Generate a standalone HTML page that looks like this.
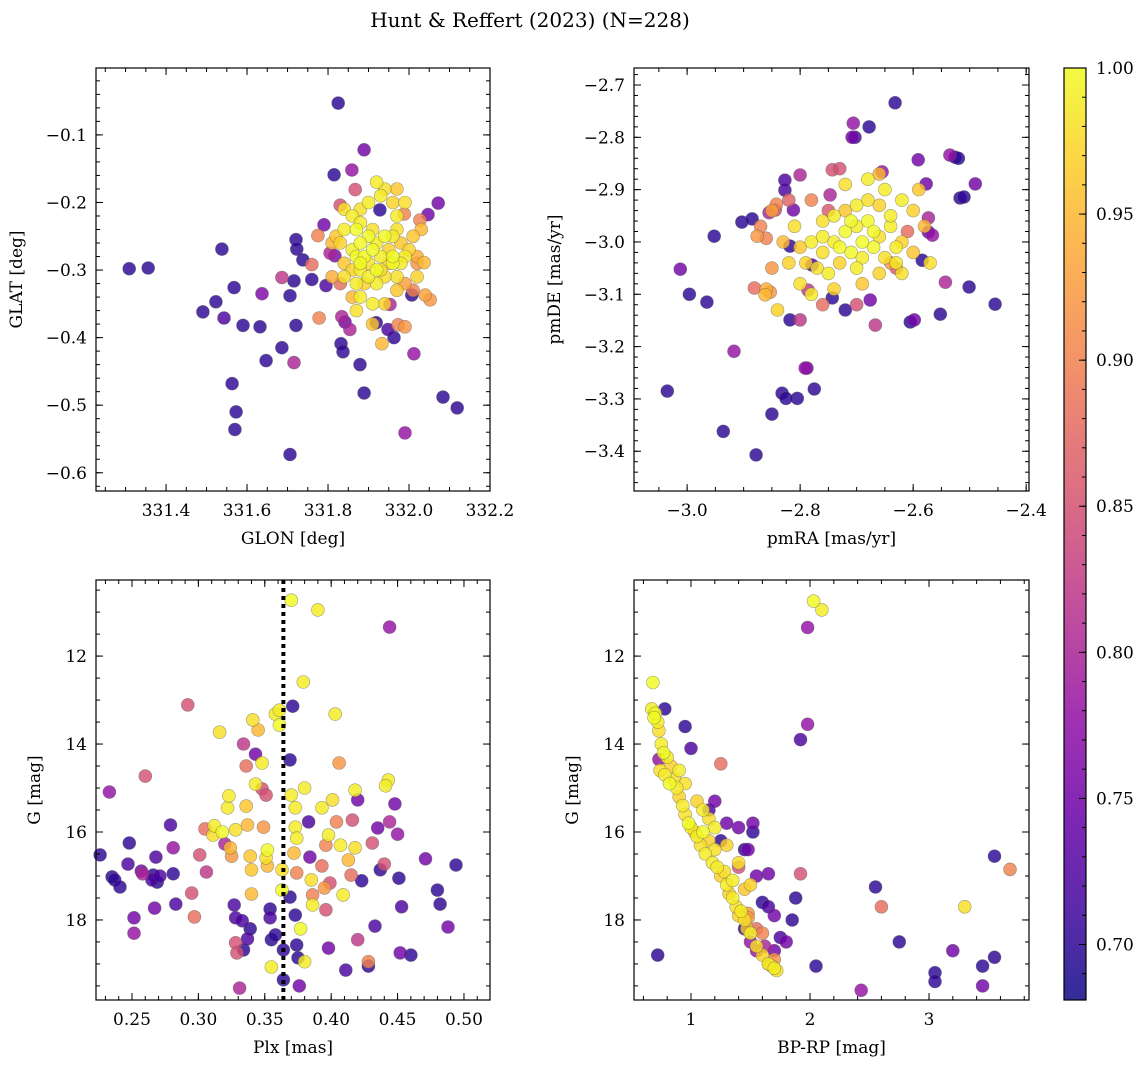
<!DOCTYPE html>
<html><head><meta charset="utf-8"><style>
body{margin:0;background:#fff;}
svg text{font-family:"DejaVu Serif","Liberation Serif",serif;fill:#000;}
</style></head><body>
<svg id="fig" width="1148" height="1068" viewBox="0 0 1148 1068" xmlns="http://www.w3.org/2000/svg">
<text x="530" y="27" font-size="20" text-anchor="middle">Hunt &amp; Reffert (2023) (N=228)</text>
</svg>
<script>
// ---- Panel 1: GLON vs GLAT ----
const p1x=[331.309,331.356,331.491,331.523,331.538,331.543,331.568,331.590,331.563,331.573,331.570,331.637,331.632,331.647,331.686,331.686,331.706,331.716,331.721,331.723,331.721,331.716,331.706,331.738,331.760,331.760,331.778,331.775,331.790,331.795,331.805,331.815,331.825,331.817,331.830,331.834,331.832,331.837,331.842,331.854,331.859,331.867,331.889,331.879,331.889,331.919,331.928,331.933,331.948,331.953,331.963,331.973,331.990,331.990,331.988,332.012,332.007,332.027,332.037,332.047,332.052,332.072,332.084,332.119,332.040,
331.84,331.86,331.87,331.88,331.90,331.91,331.92,331.94,331.95,331.96,331.97,331.98,331.99,332.00,331.86,331.87,331.88,331.89,331.90,331.92,331.93,331.95,331.96,331.97,331.84,331.83,331.84,331.87,331.89,331.92,331.94,331.97,331.88,331.86,331.91,331.93,331.94,331.92,331.90,331.88,331.96,331.97,331.88,331.91,331.88,331.90,331.93,331.96,331.98,331.86,331.84,331.82,331.81,331.99,332.01,332.02,332.03,332.02,332.01,331.81,331.83,331.87,331.94,331.91,331.97,331.99,332.02];
const p1y=[-0.298,-0.297,-0.362,-0.347,-0.269,-0.371,-0.326,-0.382,-0.468,-0.510,-0.536,-0.335,-0.384,-0.434,-0.415,-0.311,-0.338,-0.316,-0.255,-0.269,-0.382,-0.437,-0.573,-0.285,-0.292,-0.314,-0.371,-0.249,-0.233,-0.323,-0.275,-0.159,-0.053,-0.279,-0.204,-0.369,-0.409,-0.421,-0.377,-0.388,-0.152,-0.181,-0.122,-0.440,-0.482,-0.378,-0.211,-0.409,-0.388,-0.351,-0.400,-0.381,-0.384,-0.541,-0.217,-0.424,-0.337,-0.226,-0.289,-0.218,-0.344,-0.201,-0.488,-0.504,-0.337,
-0.21,-0.22,-0.24,-0.23,-0.25,-0.24,-0.26,-0.25,-0.27,-0.25,-0.24,-0.26,-0.28,-0.27,-0.27,-0.28,-0.30,-0.28,-0.29,-0.30,-0.28,-0.29,-0.29,-0.31,-0.29,-0.26,-0.31,-0.32,-0.32,-0.32,-0.31,-0.33,-0.34,-0.34,-0.35,-0.19,-0.18,-0.17,-0.20,-0.21,-0.20,-0.22,-0.29,-0.27,-0.26,-0.31,-0.30,-0.28,-0.29,-0.30,-0.24,-0.25,-0.26,-0.32,-0.25,-0.29,-0.24,-0.28,-0.33,-0.31,-0.32,-0.36,-0.35,-0.38,-0.18,-0.20,-0.31];
const p1c=[.70,.70,.70,.70,.70,.72,.70,.70,.70,.70,.70,.76,.70,.70,.70,.82,.70,.70,.70,.70,.70,.80,.70,.70,.88,.70,.90,.90,.75,.72,.80,.70,.70,.76,.85,.80,.70,.70,.75,.80,.78,.85,.75,.70,.70,.70,.70,.95,.72,.80,.70,.90,.92,.78,.90,.78,.70,.90,.95,.75,.92,.75,.70,.70,.93,
.98,.99,1,.99,1,.98,.99,1,.97,.99,.98,.96,.99,.97,.99,1,.99,1,.98,1,.99,.97,1,.98,.96,.97,.98,.99,.97,.99,.98,.96,.99,.95,.99,.99,.98,.99,.99,.98,.97,.99,1,1,1,.99,.98,1,.99,.97,.99,.96,.95,.93,.96,.92,.95,.94,.90,.94,.88,.98,.97,.96,.96,.98,.97];

// ---- Panel 2: pmRA vs pmDE ----
const p2x=[-2.632,-2.706,-2.708,-2.703,-2.678,-2.535,-2.526,-2.520,-2.490,-2.517,-2.510,-2.455,-2.501,-2.543,-2.552,-2.584,-2.598,-2.605,-2.573,-2.566,-2.573,-2.577,-2.591,-2.655,-2.667,-2.676,-2.720,-2.743,-2.779,-2.786,-2.791,-2.788,-2.775,-2.805,-2.832,-2.825,-2.850,-2.878,-2.936,-3.035,-2.996,-2.965,-3.012,-2.952,-2.903,-2.885,-2.917,-2.818,-2.800,-2.818,-2.827,-2.812,-2.827,-2.844,-2.855,-2.842,-2.860,-2.876,-2.862,-2.853,-2.881,-2.800,-2.743,-2.747,
-2.72,-2.70,-2.68,-2.66,-2.64,-2.62,-2.74,-2.76,-2.78,-2.80,-2.71,-2.69,-2.67,-2.65,-2.63,-2.73,-2.75,-2.77,-2.79,-2.70,-2.68,-2.66,-2.64,-2.72,-2.74,-2.76,-2.62,-2.60,-2.59,-2.68,-2.72,-2.65,-2.70,-2.66,-2.62,-2.81,-2.83,-2.82,-2.80,-2.78,-2.74,-2.69,-2.71,-2.67,-2.73,-2.69,-2.76,-2.63,-2.60,-2.58,-2.85,-2.87,-2.85,-2.86,-2.84,-2.76,-2.64,-2.61,-2.78,-2.73,-2.66,-2.63,-2.70,-2.75,-2.82,-2.57];
const p2y=[-2.734,-2.773,-2.800,-2.800,-2.780,-2.834,-2.838,-2.840,-2.889,-2.916,-2.914,-3.119,-3.086,-3.077,-3.138,-3.035,-3.149,-3.153,-2.981,-2.987,-2.954,-2.889,-2.843,-2.866,-3.159,-3.111,-3.130,-3.107,-3.044,-3.092,-3.241,-3.241,-3.281,-3.299,-3.289,-3.299,-3.329,-3.407,-3.362,-3.285,-3.100,-3.115,-3.052,-2.989,-2.962,-2.956,-3.209,-3.149,-3.149,-3.008,-2.901,-2.939,-2.882,-2.939,-2.944,-2.928,-2.993,-2.989,-3.101,-3.096,-3.088,-2.872,-2.862,-2.910,
-2.98,-2.97,-2.96,-2.99,-2.97,-3.00,-3.00,-3.02,-3.00,-3.01,-3.02,-3.03,-3.01,-3.03,-3.04,-3.04,-3.06,-3.05,-3.04,-2.93,-2.92,-2.93,-2.95,-2.94,-2.95,-2.96,-2.92,-2.94,-2.90,-2.88,-2.89,-2.90,-3.05,-3.06,-3.06,-2.97,-3.00,-3.04,-3.08,-3.10,-3.09,-3.08,-2.96,-2.98,-3.01,-3.00,-2.99,-3.01,-3.02,-2.97,-2.94,-2.97,-3.05,-3.09,-3.13,-3.12,-3.04,-2.98,-2.92,-2.86,-2.87,-3.05,-3.12,-2.94,-2.92,-3.04];
const p2c=[.70,.78,.75,.72,.70,.78,.70,.70,.75,.70,.70,.70,.70,.80,.70,.70,.75,.70,.75,.78,.80,.75,.75,.78,.82,.75,.70,.70,.72,.82,.78,.75,.70,.70,.70,.70,.70,.70,.70,.70,.70,.70,.75,.70,.70,.70,.78,.70,.82,.70,.72,.75,.72,.85,.80,.90,.90,.92,.95,.92,.88,.80,.85,.80,
1,.99,1,.98,.99,.97,.99,.98,.99,.96,1,.99,1,.98,.99,.97,.99,.98,.97,.99,.98,.97,.99,.96,.99,.98,.99,.97,.96,.99,.98,.99,.99,.97,.98,.98,.95,.97,.98,.99,.97,.96,1,1,1,1,.99,.99,.96,.95,.93,.90,.92,.94,.97,.88,.92,.88,.90,.85,.95,.86,.85,.86,.87,.98];

// ---- Panel 3: Plx vs G ----
const p3x=[0.226,0.233,0.235,0.237,0.241,0.247,0.248,0.2515,0.2515,0.257,0.258,0.260,0.266,0.268,0.265,0.267,0.269,0.271,0.279,0.281,0.283,0.281,0.292,0.295,0.297,0.301,0.306,0.305,0.311,0.312,0.316,0.318,0.320,0.322,0.323,0.324,0.325,0.328,0.327,0.328,0.328,0.329,0.331,0.334,0.336,0.336,0.337,0.339,0.340,0.340,0.339,0.341,0.343,0.345,0.343,0.348,0.348,0.351,0.349,0.351,0.352,0.352,0.354,0.354,0.355,0.358,0.355,0.358,0.361,0.361,0.363,0.363,0.364,0.364,0.370,0.371,0.369,0.370,0.373,0.373,0.374,0.372,0.374,0.369,0.373,0.374,0.375,0.376,0.377,0.379,0.380,0.383,0.384,0.385,0.386,0.386,0.380,0.390,0.393,0.393,0.395,0.396,0.398,0.396,0.398,0.399,0.403,0.401,0.404,0.407,0.406,0.409,0.411,0.413,0.415,0.416,0.418,0.418,0.420,0.420,0.423,0.428,0.428,0.431,0.433,0.435,0.437,0.440,0.443,0.441,0.444,0.444,0.448,0.450,0.451,0.453,0.452,0.460,0.471,0.480,0.482,0.488,0.494,0.334,0.337,0.333];
const p3y=[16.52,15.09,17.02,17.09,17.25,16.73,16.25,17.95,18.30,16.89,16.95,14.73,16.98,16.57,17.09,17.73,17.14,17.0,15.84,16.36,17.64,16.95,13.11,17.39,17.93,16.52,16.91,15.93,16.07,15.86,13.73,16.0,16.27,15.45,15.18,16.36,16.55,15.95,17.66,17.95,18.52,18.75,19.55,14.0,14.5,15.41,15.84,16.55,16.86,17.41,18.20,13.45,14.23,13.68,14.91,14.43,15.02,15.16,15.89,16.59,16.77,16.41,17.95,17.75,18.45,18.34,19.07,13.32,13.23,13.57,16.86,17.32,18.68,19.36,10.73,13.14,14.36,15.16,15.45,15.89,16.14,16.48,16.93,17.48,17.89,18.57,18.86,19.5,18.2,12.59,15.0,15.77,16.57,17.09,17.43,17.66,18.95,10.95,15.45,16.77,17.27,16.3,16.07,17.77,18.64,17.16,13.32,15.27,15.77,16.3,14.43,17.43,19.14,16.64,16.98,15.73,16.36,15.05,15.27,18.45,17.11,19.05,18.95,16.25,18.14,15.91,16.86,16.73,14.82,14.95,15.77,11.34,15.36,16.05,17.05,17.7,18.75,18.8,16.61,17.32,17.64,18.16,16.75,18.68,18.43,18.02];
const p3c=[.7,.78,.7,.7,.7,.72,.7,.75,.78,.75,.8,.85,.7,.72,.72,.75,.7,.72,.72,.78,.72,.7,.85,.85,.88,.85,.82,.88,.98,.99,.98,1,.8,.99,.99,.95,.92,.98,.72,.72,.85,.85,.8,.82,.88,.96,.95,.96,.96,.95,.7,.98,.75,.95,.99,.99,.85,.85,.92,.98,.95,1,.72,.7,.7,.7,.99,.99,.99,1,.98,1,.7,.7,1,.7,.7,.99,.99,.99,.99,.95,.9,.7,.7,.7,.7,.75,1,.99,.99,.72,.75,.98,.9,.99,.99,.99,.99,.88,.92,.9,.99,.85,.75,.85,.99,.98,.9,.99,.92,.99,.72,.95,.88,.85,.98,.99,.75,.82,.7,.7,.9,.85,.72,.75,.7,.85,.99,.99,.8,.78,.75,.78,.7,.72,.75,.7,.75,.7,.7,.75,.7,.7,.72,.72];

// ---- Panel 4: BP-RP vs G ----
const p4x=[0.68,0.67,0.70,0.72,0.69,0.73,0.75,0.77,0.74,0.80,0.83,0.78,0.82,0.86,0.88,0.90,0.93,0.95,0.98,1.0,1.03,1.05,1.08,1.1,1.12,1.15,1.18,1.2,1.22,1.25,1.28,1.3,1.32,1.35,1.38,1.4,1.42,1.45,1.47,1.5,1.55,1.6,1.65,1.68,1.7,1.72,0.9,0.95,1.05,1.1,1.15,1.2,1.3,1.4,1.35,2.03,2.1,3.3,1.5,1.45,
3.68,2.6,1.48,1.48,1.6,1.65,1.7,1.25,1.55,1.4,
1.98,1.98,1.92,1.52,1.52,1.65,1.92,1.88,1.85,1.8,1.7,1.62,1.55,1.75,2.05,2.55,2.75,3.2,3.05,3.05,3.45,3.45,3.55,3.55,2.43,0.72,0.95,0.78,1.0,1.2,1.15,1.25,1.3,1.4,1.45,1.48,1.55,1.6,1.45,1.7,1.65,1.5,0.73];
const p4y=[12.6,13.2,13.3,13.5,13.4,13.7,14.0,14.2,14.6,14.3,14.5,14.7,14.9,14.8,15.0,15.2,15.4,15.6,15.8,15.9,16.0,16.1,16.3,16.0,16.5,16.2,16.7,16.4,16.8,17.0,16.9,17.2,17.4,17.5,17.7,17.9,17.8,18.0,18.2,18.3,18.6,18.8,19.0,19.05,19.1,19.15,14.6,14.9,15.3,15.5,15.7,15.9,16.3,16.7,17.1,10.75,10.95,17.7,17.2,17.3,
16.85,17.7,17.85,17.95,18.3,19.0,18.9,14.45,18.2,16.8,
11.35,13.55,13.9,15.8,16.0,16.95,16.95,17.5,18.0,18.5,18.7,18.6,18.7,18.4,19.05,17.25,18.5,18.7,19.2,19.4,19.05,19.5,18.85,16.55,19.6,18.8,13.6,13.2,14.1,15.3,15.5,16.2,15.8,15.9,16.4,16.4,17.0,17.6,18.2,17.9,17.7,18.5,14.35];
const p4c=[1,.99,1,.99,1,.98,.99,1,.98,.99,.97,.99,1,.98,.99,.97,.99,.98,1,.99,.97,.99,.98,1,.99,.97,.99,.98,.99,.97,.98,.99,.97,.99,.98,.97,.99,.98,.96,.99,.98,.97,.99,.98,.99,.98,.99,.98,.97,.99,.98,.99,.97,.98,.99,1,.99,.98,.97,.96,
.9,.88,.92,.92,.9,.93,.92,.88,.88,.85,
.78,.78,.72,.75,.7,.75,.85,.7,.7,.75,.75,.8,.78,.72,.7,.7,.7,.75,.7,.7,.7,.75,.7,.7,.78,.7,.7,.7,.72,.75,.72,.7,.75,.75,.7,.75,.75,.7,.7,.75,.72,.78,.78];

const cbTicks=[0.70,0.75,0.80,0.85,0.90,0.95,1.00];
const CMIN=0.681, CMAX=1.0;

const NS='http://www.w3.org/2000/svg';
const svg=document.getElementById('fig');
function mk(tag,attrs,parent){const e=document.createElementNS(NS,tag);for(const k in attrs)e.setAttribute(k,attrs[k]);(parent||svg).appendChild(e);return e;}
const PL=[[13,8,135],[65,4,157],[106,0,168],[143,13,164],[177,42,144],[204,71,120],[225,100,98],[242,132,75],[252,166,54],[252,206,37],[240,249,33]];
function plasma(v){let t=(v-CMIN)/(CMAX-CMIN);t=Math.max(0,Math.min(1,t))*10;const i=Math.min(9,Math.floor(t)),f=t-i;const a=PL[i],b=PL[i+1];return `rgb(${Math.round(a[0]+(b[0]-a[0])*f)},${Math.round(a[1]+(b[1]-a[1])*f)},${Math.round(a[2]+(b[2]-a[2])*f)})`;}
function fmt(v,d){const s=Math.abs(v).toFixed(d);return (v<-1e-9?'\u2212':'')+s;}

function panel(o){
  const g=mk('g',{});
  
  
  const sx=v=>o.x0+(v-o.xmin)/(o.xmax-o.xmin)*(o.x1-o.x0);
  const sy=v=>o.y1+(v-o.ymin)/(o.ymax-o.ymin)*(o.y0-o.y1);
  const idx=o.xs.map((_,i)=>i).sort((a,b)=>o.cs[a]-o.cs[b]);
  const pts=mk('g',{},g);
  
  
  for(const i of idx){
    const c=mk('circle',{cx:sx(o.xs[i]).toFixed(1),cy:sy(o.ys[i]).toFixed(1),r:6.5,fill:plasma(o.cs[i]),'fill-opacity':0.82,stroke:'rgba(90,90,90,0.55)','stroke-width':0.6},pts);
    
    
  }
  if(o.vline!==undefined){
    const l=mk('line',{x1:sx(o.vline),x2:sx(o.vline),y1:o.y0,y2:o.y1,stroke:'#000','stroke-width':4,'stroke-dasharray':'4,4'},g);
    
    
  }
  const fr=mk('rect',{x:o.x0,y:o.y0,width:o.x1-o.x0,height:o.y1-o.y0,fill:'none',stroke:'#000','stroke-width':1.2},g);
  
  
  const tk=mk('g',{stroke:'#000','stroke-width':1},g);
  for(let k=Math.ceil(o.xmin/o.xmi-1e-6);k*o.xmi<=o.xmax+1e-9;k++){const x=sx(k*o.xmi);mk('line',{x1:x,x2:x,y1:o.y1,y2:o.y1-4},tk);mk('line',{x1:x,x2:x,y1:o.y0,y2:o.y0+4},tk);}
  const ylo=Math.min(o.ymin,o.ymax),yhi=Math.max(o.ymin,o.ymax);
  for(let k=Math.ceil(ylo/o.ymi-1e-6);k*o.ymi<=yhi+1e-9;k++){const y=sy(k*o.ymi);mk('line',{x1:o.x0,x2:o.x0+4,y1:y,y2:y},tk);mk('line',{x1:o.x1,x2:o.x1-4,y1:y,y2:y},tk);}
  for(const v of o.xt){const x=sx(v);mk('line',{x1:x,x2:x,y1:o.y1,y2:o.y1-7},tk);mk('line',{x1:x,x2:x,y1:o.y0,y2:o.y0+7},tk);
    const t=mk('text',{x:x,y:o.y1+25,'font-size':17,'text-anchor':'middle'},g);t.textContent=fmt(v,o.xd);
    }
  for(const v of o.yt){const y=sy(v);mk('line',{x1:o.x0,x2:o.x0+7,y1:y,y2:y},tk);mk('line',{x1:o.x1,x2:o.x1-7,y1:y,y2:y},tk);
    const t=mk('text',{x:o.x0-9,y:y+6,'font-size':17,'text-anchor':'end'},g);t.textContent=fmt(v,o.yd);
    }
  const xl=mk('text',{x:(o.x0+o.x1)/2,y:o.y1+53,'font-size':17,'text-anchor':'middle'},g);xl.textContent=o.xl;
  
  const yx=o.x0-o.yoff, yc=(o.y0+o.y1)/2;
  const yl=mk('text',{x:yx,y:yc,'font-size':17,'text-anchor':'middle',transform:`rotate(-90 ${yx} ${yc})`},g);yl.textContent=o.yl;
  
}

panel({name:'glon-glat-panel',x0:96,x1:490,y0:68,y1:491,xmin:331.227,xmax:332.2,ymin:-0.627,ymax:-0.001,xs:p1x,ys:p1y,cs:p1c,yoff:74,
  xt:[331.4,331.6,331.8,332.0,332.2],yt:[-0.1,-0.2,-0.3,-0.4,-0.5,-0.6],xmi:0.05,ymi:0.02,xd:1,yd:1,xl:'GLON [deg]',yl:'GLAT [deg]'});
panel({name:'proper-motion-panel',x0:634,x1:1029,y0:68,y1:491,xmin:-3.094,xmax:-2.395,ymin:-3.476,ymax:-2.6675,xs:p2x,ys:p2y,cs:p2c,yoff:74,
  xt:[-3.0,-2.8,-2.6,-2.4],yt:[-2.7,-2.8,-2.9,-3.0,-3.1,-3.2,-3.3,-3.4],xmi:0.05,ymi:0.02,xd:1,yd:1,xl:'pmRA [mas/yr]',yl:'pmDE [mas/yr]'});
panel({name:'parallax-magnitude-panel',x0:96,x1:490,y0:580,y1:1000,xmin:0.2229,xmax:0.5196,ymin:19.82,ymax:10.27,xs:p3x,ys:p3y,cs:p3c,vline:0.364,yoff:56,
  xt:[0.25,0.30,0.35,0.40,0.45,0.50],yt:[12,14,16,18],xmi:0.01,ymi:0.5,xd:2,yd:0,xl:'Plx [mas]',yl:'G [mag]'});
panel({name:'cmd-panel',x0:634,x1:1029,y0:580,y1:1000,xmin:0.521,xmax:3.84,ymin:19.82,ymax:10.27,xs:p4x,ys:p4y,cs:p4c,yoff:56,
  xt:[1,2,3],yt:[12,14,16,18],xmi:0.2,ymi:0.5,xd:0,yd:0,xl:'BP-RP [mag]',yl:'G [mag]'});

// colorbar
const cb=mk('g',{});


const defs=mk('defs',{},svg);
const lg=mk('linearGradient',{id:'cbg',x1:0,y1:1,x2:0,y2:0},defs);
for(let i=0;i<=20;i++){const v=CMIN+(CMAX-CMIN)*i/20;mk('stop',{offset:(i/20),'stop-color':plasma(v),'stop-opacity':0.85},lg);}
const CX0=1064,CX1=1086,CY0=68,CY1=1000;
const cy=v=>CY1-(v-CMIN)/(CMAX-CMIN)*(CY1-CY0);
mk('rect',{x:CX0,y:CY0,width:CX1-CX0,height:CY1-CY0,fill:'url(#cbg)',stroke:'#000','stroke-width':1.2},cb);
for(let k=69;k<=100;k++){const y=cy(k/100);mk('line',{x1:CX1,x2:CX1-4,y1:y,y2:y,stroke:'#000'},cb);}
for(const v of cbTicks){const y=cy(v);mk('line',{x1:CX1,x2:CX1-7,y1:y,y2:y,stroke:'#000'},cb);
  const t=mk('text',{x:CX1+10,y:y+6,'font-size':17},cb);t.textContent=v.toFixed(2);
  }
</script>
</body></html>
